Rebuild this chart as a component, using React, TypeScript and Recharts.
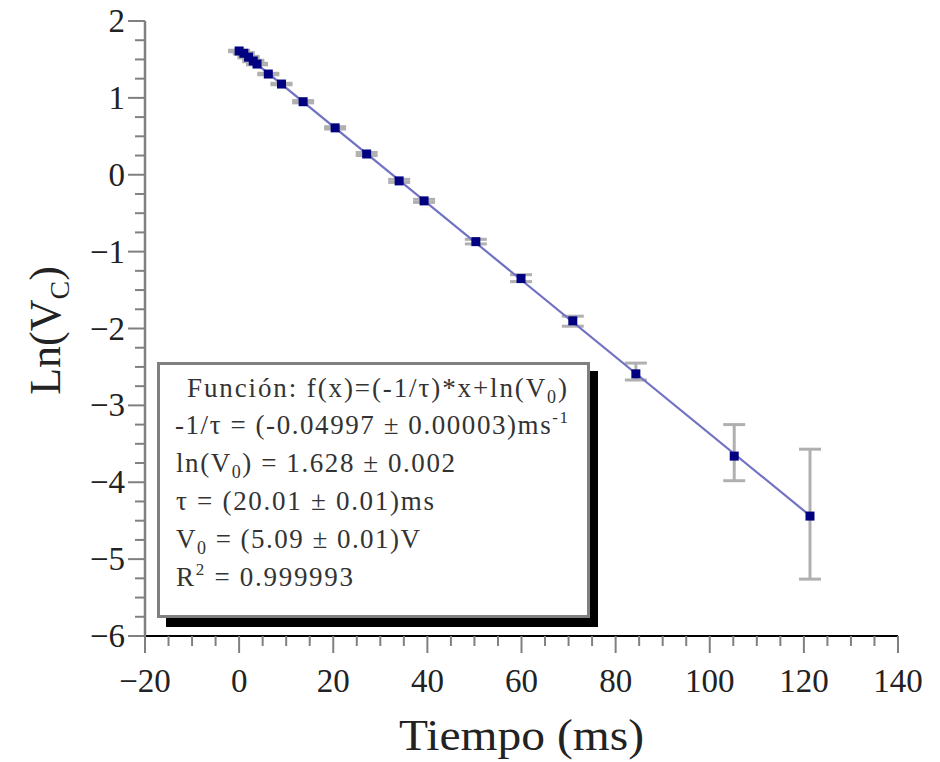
import React from 'react';
import { ScatterChart, Scatter, XAxis, YAxis, ErrorBar } from 'recharts';

// Measured data (time in ms, ln of capacitor voltage)
const times = [0, 1, 2, 3, 3.8, 6.2, 9.0, 13.6, 20.4, 27.1, 34.0, 39.3, 50.3, 59.9, 70.9, 84.3, 105.2, 121.3];
const lnVc = [1.61, 1.58, 1.53, 1.48, 1.44, 1.31, 1.18, 0.95, 0.61, 0.27, -0.08, -0.34, -0.87, -1.35, -1.9, -2.59, -3.66, -4.44];
const errLow = [0.01, 0.01, 0.01, 0.01, 0.01, 0.01, 0.01, 0.015, 0.015, 0.02, 0.02, 0.02, 0.03, 0.04, 0.07, 0.08, 0.32, 0.82];
const errHigh = [0.01, 0.01, 0.01, 0.01, 0.01, 0.01, 0.01, 0.015, 0.015, 0.02, 0.02, 0.02, 0.03, 0.05, 0.06, 0.14, 0.41, 0.87];

// Fitted line endpoints f(x) = -0.04997 x + 1.628
const fitX = [0, 121.3];
const fitY = [1.628, -4.434];

const xTicks = [-20, -15, -10, -5, 0, 5, 10, 15, 20, 25, 30, 35, 40, 45, 50, 55, 60, 65, 70, 75, 80, 85, 90, 95, 100, 105, 110, 115, 120, 125, 130, 135, 140];
const xMajor = [-20, 0, 20, 40, 60, 80, 100, 120, 140];
const yTicks = [-6, -5.75, -5.5, -5.25, -5, -4.75, -4.5, -4.25, -4, -3.75, -3.5, -3.25, -3, -2.75, -2.5, -2.25, -2, -1.75, -1.5, -1.25, -1, -0.75, -0.5, -0.25, 0, 0.25, 0.5, 0.75, 1, 1.25, 1.5, 1.75, 2];
const yMajor = [-6, -5, -4, -3, -2, -1, 0, 1, 2];

const points = times.map((t, i) => ({ x: t, y: lnVc[i], err: [errLow[i], errHigh[i]] }));
const fit = fitX.map((t, i) => ({ x: t, y: fitY[i] }));

const SERIF = '"Liberation Serif", "Times New Roman", serif';
const fmt = (v: number) => (v < 0 ? '\u2212' + Math.abs(v) : String(v));

const XTick = (props: any) => {
  const { x, y, payload } = props;
  const v = payload.value;
  const major = xMajor.includes(v);
  return (
    <g>
      <line x1={x} x2={x} y1={y} y2={y + (major ? 17 : 10)} stroke="#808080" strokeWidth={2} />
      {major && (
        <text x={x} y={y + 56} textAnchor="middle" fontFamily={SERIF} fontSize={33} fill="#222">
          {fmt(v)}
        </text>
      )}
    </g>
  );
};

const YTick = (props: any) => {
  const { x, y, payload } = props;
  const v = payload.value;
  const major = yMajor.includes(v);
  return (
    <g>
      <line x1={x} x2={x - (major ? 17 : 10)} y1={y} y2={y} stroke="#808080" strokeWidth={2} />
      {major && (
        <text x={x - 20} y={y + 11} textAnchor="end" fontFamily={SERIF} fontSize={33} fill="#222">
          {fmt(v)}
        </text>
      )}
    </g>
  );
};

const XTitle = (props: any) => {
  const vb = props.viewBox || { x: 145, y: 636, width: 753, height: 126 };
  return (
    <text x={vb.x + vb.width / 2} y={vb.y + 114} textAnchor="middle" fontFamily={SERIF} fontSize={44} fill="#222" textLength={245} lengthAdjust="spacingAndGlyphs">
      Tiempo (ms)
    </text>
  );
};

const YTitle = (props: any) => {
  const vb = props.viewBox || { x: 0, y: 21, width: 145, height: 615 };
  const cx = vb.x + 60;
  const cy = vb.y + vb.height / 2 + 2;
  return (
    <text transform={`translate(${cx},${cy}) rotate(-90)`} textAnchor="middle" fontFamily={SERIF} fontSize={44} fill="#222">
      Ln(V<tspan dy={9} fontSize={28}>C</tspan><tspan dy={-9}>)</tspan>
    </text>
  );
};

const Square = (props: any) => {
  const { cx, cy } = props;
  if (cx == null || cy == null) return <g />;
  return <rect x={cx - 4.5} y={cy - 4.5} width={9} height={9} fill="#000080" />;
};

const NoShape = () => <g />;

const boxLines: { text: React.ReactNode; x: number; y: number; len: number }[] = [
  { text: <>Función: f(x)=(-1/τ)*x+ln(V<tspan dy={6} fontSize={18}>0</tspan><tspan dy={-6}>)</tspan></>, x: 187, y: 397, len: 380 },
  { text: <>-1/τ = (-0.04997 ± 0.00003)ms<tspan dy={-11} fontSize={17}>-1</tspan></>, x: 175, y: 434, len: 393 },
  { text: <>ln(V<tspan dy={6} fontSize={18}>0</tspan><tspan dy={-6}>) = 1.628 ± 0.002</tspan></>, x: 176, y: 472, len: 279 },
  { text: <>τ = (20.01 ± 0.01)ms</>, x: 176, y: 510, len: 258 },
  { text: <>V<tspan dy={6} fontSize={18}>0</tspan><tspan dy={-6}> = (5.09 ± 0.01)V</tspan></>, x: 176, y: 548, len: 244 },
  { text: <>R<tspan dy={-11} fontSize={17}>2</tspan><tspan dy={11}> = 0.999993</tspan></>, x: 176, y: 586, len: 177 },
];

export default function App() {
  return (
    <div style={{ position: 'absolute', left: 0, top: 0, width: 940, height: 762, background: '#fff' }}>
      <ScatterChart width={940} height={762} margin={{ top: 21, right: 42, left: 0, bottom: 0 }}>
        <XAxis
          type="number"
          dataKey="x"
          domain={[-20, 140]}
          ticks={xTicks}
          interval={0}
          tickSize={0}
          tickMargin={0}
          tickLine={false}
          tick={<XTick />}
          axisLine={{ stroke: '#000', strokeWidth: 2 }}
          height={126}
          allowDataOverflow
          label={XTitle}
        />
        <YAxis
          type="number"
          dataKey="y"
          domain={[-6, 2]}
          ticks={yTicks}
          interval={0}
          tickSize={0}
          tickMargin={0}
          tickLine={false}
          tick={<YTick />}
          axisLine={{ stroke: '#808080', strokeWidth: 2.5 }}
          width={145}
          allowDataOverflow
          label={YTitle}
        />
        <Scatter data={fit} line={{ stroke: '#7272c4', strokeWidth: 2.2 }} shape={NoShape} isAnimationActive={false} legendType="none" />
        <Scatter data={points} shape={Square} isAnimationActive={false}>
          <ErrorBar dataKey="err" direction="y" width={11} stroke="#b0b0b0" strokeWidth={3} isAnimationActive={false} />
        </Scatter>
      </ScatterChart>
      <svg width={940} height={762} style={{ position: 'absolute', left: 0, top: 0, pointerEvents: 'none' }}>
        <rect x={166} y={371} width={432} height={256} fill="#000" />
        <rect x={158.5} y={363.5} width={430} height={253} fill="#fff" stroke="#808080" strokeWidth={3} />
        {boxLines.map((l, i) => (
          <text key={i} x={l.x} y={l.y} fontFamily={SERIF} fontSize={27} fill="#333" textLength={l.len} lengthAdjust="spacing">
            {l.text}
          </text>
        ))}
      </svg>
    </div>
  );
}
